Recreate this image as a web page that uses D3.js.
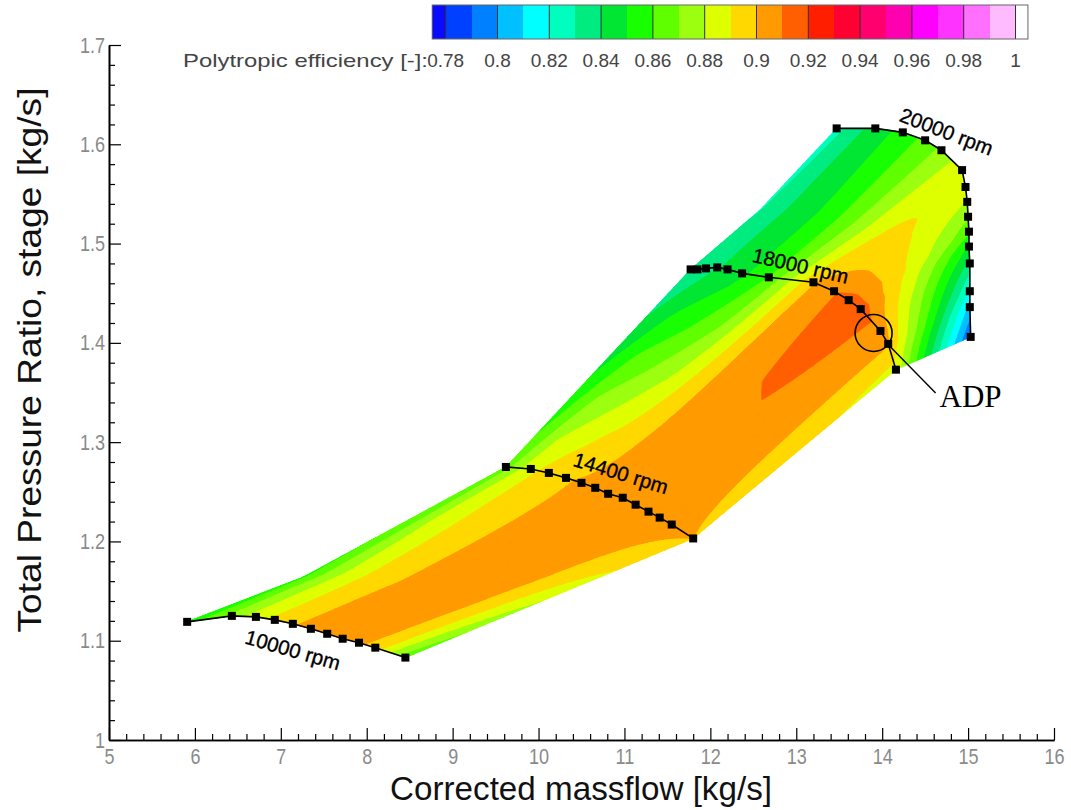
<!DOCTYPE html>
<html><head><meta charset="utf-8">
<script src="https://cdn.jsdelivr.net/npm/d3@7"></script>
<style>body{margin:0;background:#fff}svg{display:block}</style>
</head><body>
<svg id="chart" width="1071" height="810"></svg>
<script>
// ---------------- data ----------------
const speedNames = ["10000 rpm", "14400 rpm", "18000 rpm", "20000 rpm"];

const mf10000  = [5.91, 6.43, 6.71, 6.93, 7.14, 7.35, 7.54, 7.72, 7.91, 8.10, 8.45];
const pr10000  = [1.119, 1.125, 1.124, 1.121, 1.117, 1.112, 1.107, 1.102, 1.098, 1.093, 1.083];
const eff10000 = [0.853, 0.873, 0.885, 0.892, 0.899, 0.903, 0.905, 0.905, 0.902, 0.896, 0.862];

const mf14400  = [9.62, 9.91, 10.12, 10.32, 10.50, 10.66, 10.81, 10.98, 11.13, 11.28, 11.41, 11.55, 11.80];
const pr14400  = [1.275, 1.273, 1.269, 1.264, 1.259, 1.254, 1.248, 1.244, 1.237, 1.230, 1.224, 1.217, 1.203];
const eff14400 = [0.865, 0.887, 0.894, 0.899, 0.901, 0.903, 0.904, 0.904, 0.904, 0.904, 0.904, 0.903, 0.900];

const mf18000  = [11.77, 11.85, 11.95, 12.08, 12.20, 12.37, 12.68, 13.20, 13.44, 13.61, 13.75, 13.98, 14.07, 14.16];
const pr18000  = [1.474, 1.474, 1.475, 1.476, 1.474, 1.470, 1.466, 1.461, 1.452, 1.443, 1.434, 1.412, 1.399, 1.373];
const eff18000 = [0.832, 0.834, 0.836, 0.839, 0.842, 0.847, 0.860, 0.899, 0.909, 0.914, 0.915, 0.906, 0.901, 0.886];

const mf20000  = [13.47, 13.92, 14.24, 14.50, 14.69, 14.93, 14.97, 14.99, 15.00, 15.01, 15.01, 15.02, 15.02, 15.02, 15.03];
const pr20000  = [1.616, 1.616, 1.612, 1.604, 1.594, 1.574, 1.557, 1.542, 1.527, 1.512, 1.497, 1.480, 1.452, 1.436, 1.406];
const eff20000 = [0.826, 0.845, 0.853, 0.863, 0.872, 0.887, 0.885, 0.879, 0.871, 0.862, 0.848, 0.836, 0.818, 0.806, 0.788];

// corner points of the map outline between neighbouring speed lines (surge side / choke side)
const surgeEdgeKinks = [[[7.26, 1.164]], [], [[12.58, 1.534]]];
const chokeEdgeKinks = [[], [], []];

const effLevels = [0.78, 0.79, 0.80, 0.81, 0.82, 0.83, 0.84, 0.85, 0.86, 0.87, 0.88, 0.89,
                   0.90, 0.91, 0.92, 0.93, 0.94, 0.95, 0.96, 0.97, 0.98, 0.99, 1.00];
const levelColors = ["#0a0aff", "#0040ff", "#0080ff", "#00c0ff", "#00ffff", "#00ffbf", "#00eb80",
  "#00e632", "#18ff00", "#60ff00", "#9cff10", "#ddff00", "#ffd800", "#ff9a00", "#ff5f00",
  "#ff1e00", "#ff0033", "#ff006e", "#ff00b0", "#ff00ff", "#ff33ff", "#ff70ff", "#ffbbff", "#ffffff"];
const colorbarTickValues = [0.78, 0.80, 0.82, 0.84, 0.86, 0.88, 0.90, 0.92, 0.94, 0.96, 0.98, 1.00];
const colorbarTickLabels = ["0.78", "0.8", "0.82", "0.84", "0.86", "0.88", "0.9", "0.92", "0.94", "0.96", "0.98", "1"];

const xTickValues = [5, 6, 7, 8, 9, 10, 11, 12, 13, 14, 15, 16];
const xTickLabels = ["5", "6", "7", "8", "9", "10", "11", "12", "13", "14", "15", "16"];
const yTickValues = [1, 1.1, 1.2, 1.3, 1.4, 1.5, 1.6, 1.7];
const yTickLabels = ["1", "1.1", "1.2", "1.3", "1.4", "1.5", "1.6", "1.7"];

const speedLabelPos = [[7.14, 1.091], [10.96, 1.269], [13.05, 1.478], [14.75, 1.613]];
const speedLabelAngle = [16, 17, 13, 21];
const adpPoint = [13.90, 1.410];

// ---------------- setup ----------------
const svg = d3.select("#chart");
const x = d3.scaleLinear().domain([5, 16]).range([109, 1054]);
const y = d3.scaleLinear().domain([1, 1.7]).range([740, 45]);
const FONT = "'Liberation Sans', Arial, Helvetica, sans-serif";

const lines = [
  {m: mf10000, p: pr10000, e: eff10000},
  {m: mf14400, p: pr14400, e: eff14400},
  {m: mf18000, p: pr18000, e: eff18000},
  {m: mf20000, p: pr20000, e: eff20000}
];

function toPx(ms, ps) { return ms.map((m, i) => [x(m), y(ps[i])]); }
function cumParam(pts) {
  const c = [0];
  for (let i = 1; i < pts.length; i++) c.push(c[i - 1] + Math.hypot(pts[i][0] - pts[i - 1][0], pts[i][1] - pts[i - 1][1]));
  const L = c[c.length - 1];
  return c.map(v => v / L);
}
function segAt(t, u) {
  let i = d3.bisectRight(t, u) - 1;
  i = Math.max(0, Math.min(t.length - 2, i));
  return [i, (u - t[i]) / (t[i + 1] - t[i])];
}
function ptAt(pts, t, u) {
  const [i, s] = segAt(t, u);
  return [pts[i][0] + s * (pts[i + 1][0] - pts[i][0]), pts[i][1] + s * (pts[i + 1][1] - pts[i][1])];
}
function valAt(vals, t, u) {
  const [i, s] = segAt(t, u);
  return vals[i] + s * (vals[i + 1] - vals[i]);
}
const pxLines = lines.map(l => { const pts = toPx(l.m, l.p); return {pts, t: cumParam(pts), e: l.e}; });

// ---------------- contour bands (Coons patch between speed lines) ----------------
function bandIndex(f) { let k = 0; while (k < effLevels.length && f >= effLevels[k]) k++; return k; }
function clip(poly, above, lev) {
  const out = [];
  for (let i = 0; i < poly.length; i++) {
    const a = poly[i], b = poly[(i + 1) % poly.length];
    const ia = above ? a[2] >= lev : a[2] <= lev;
    const ib = above ? b[2] >= lev : b[2] <= lev;
    if (ia) out.push(a);
    if (ia !== ib) {
      const s = (lev - a[2]) / (b[2] - a[2]);
      out.push([a[0] + s * (b[0] - a[0]), a[1] + s * (b[1] - a[1]), lev]);
    }
  }
  return out;
}
const bandPaths = levelColors.map(() => []);
function addTri(tri) {
  const fs = tri.map(p => p[2]);
  const k0 = bandIndex(d3.min(fs)), k1 = bandIndex(d3.max(fs));
  for (let k = k0; k <= k1; k++) {
    let poly = tri;
    if (k > 0) poly = clip(poly, true, effLevels[k - 1]);
    if (poly.length >= 3 && k < effLevels.length) poly = clip(poly, false, effLevels[k]);
    if (poly.length >= 3) bandPaths[k].push("M" + poly.map(p => p[0].toFixed(2) + "," + p[1].toFixed(2)).join("L") + "Z");
  }
}
const NU = 150, NV = 32;
for (let r = 0; r < 3; r++) {
  const lo = pxLines[r], up = pxLines[r + 1];
  const L0 = lo.pts[0], L1 = lo.pts[lo.pts.length - 1];
  const U0 = up.pts[0], U1 = up.pts[up.pts.length - 1];
  const leftPts = [L0, ...surgeEdgeKinks[r].map(d => [x(d[0]), y(d[1])]), U0];
  const rightPts = [L1, ...chokeEdgeKinks[r].map(d => [x(d[0]), y(d[1])]), U1];
  const lt = cumParam(leftPts), rt = cumParam(rightPts);
  const grid = [];
  for (let i = 0; i <= NU; i++) {
    const u = i / NU;
    const a = ptAt(lo.pts, lo.t, u), b = ptAt(up.pts, up.t, u);
    const ea = valAt(lo.e, lo.t, u), eb = valAt(up.e, up.t, u);
    const col = [];
    for (let j = 0; j <= NV; j++) {
      const v = j / NV;
      const bl = ptAt(leftPts, lt, v), br = ptAt(rightPts, rt, v);
      const px = (1 - v) * a[0] + v * b[0] + (1 - u) * bl[0] + u * br[0]
        - ((1 - u) * (1 - v) * L0[0] + u * (1 - v) * L1[0] + (1 - u) * v * U0[0] + u * v * U1[0]);
      const py = (1 - v) * a[1] + v * b[1] + (1 - u) * bl[1] + u * br[1]
        - ((1 - u) * (1 - v) * L0[1] + u * (1 - v) * L1[1] + (1 - u) * v * U0[1] + u * v * U1[1]);
      col.push([px, py, (1 - v) * ea + v * eb]);
    }
    grid.push(col);
  }
  for (let i = 0; i < NU; i++) for (let j = 0; j < NV; j++) {
    const p00 = grid[i][j], p10 = grid[i + 1][j], p01 = grid[i][j + 1], p11 = grid[i + 1][j + 1];
    addTri([p00, p10, p11]);
    addTri([p00, p11, p01]);
  }
}
svg.append("g").attr("class", "contours")
  .selectAll("path").data(levelColors.map((c, k) => ({c, d: bandPaths[k].join("")})).filter(d => d.d))
  .join("path").attr("d", d => d.d).attr("fill", d => d.c)
  .attr("stroke", d => d.c).attr("stroke-width", 0.8).attr("stroke-linejoin", "round");

// ---------------- speed lines ----------------
const lineGen = d3.line().x(d => x(d[0])).y(d => y(d[1]));
const gLines = svg.append("g").attr("class", "speedlines");
lines.forEach(l => {
  const pts = l.m.map((m, i) => [m, l.p[i]]);
  gLines.append("path").attr("d", lineGen(pts)).attr("fill", "none").attr("stroke", "#000").attr("stroke-width", 1.6);
  gLines.selectAll(null).data(pts).join("rect")
    .attr("x", d => x(d[0]) - 4).attr("y", d => y(d[1]) - 4).attr("width", 8).attr("height", 8).attr("fill", "#000");
});
svg.append("g").selectAll("text").data(speedNames).join("text")
  .attr("transform", (d, i) => `translate(${x(speedLabelPos[i][0])},${y(speedLabelPos[i][1])}) rotate(${speedLabelAngle[i]})`)
  .attr("text-anchor", "middle").attr("dominant-baseline", "central")
  .attr("font-family", FONT).attr("font-size", 20.5).attr("fill", "#000")
  .attr("stroke", "#000").attr("stroke-width", 0.35)
  .text(d => d);

// ---------------- ADP annotation ----------------
const ax = x(adpPoint[0]), ay = y(adpPoint[1]);
svg.append("circle").attr("cx", ax).attr("cy", ay).attr("r", 18.5).attr("fill", "none").attr("stroke", "#000").attr("stroke-width", 1.6);
svg.append("line").attr("x1", ax + 14).attr("y1", ay + 11).attr("x2", ax + 62).attr("y2", ay + 60).attr("stroke", "#000").attr("stroke-width", 1.4);
svg.append("text").attr("x", ax + 66).attr("y", ay + 74).attr("font-family", "'Liberation Serif', 'Times New Roman', serif")
  .attr("font-size", 31).attr("fill", "#000").text("ADP");

// ---------------- axes ----------------
const xMinor = d3.range(50, 161, 2).filter(v => v % 10 !== 0).map(v => v / 10);
const yMinor = d3.range(50, 86, 1).filter(v => v % 5 !== 0).map(v => v / 50);
svg.append("g").attr("transform", `translate(0,${y(1)})`)
  .call(d3.axisBottom(x).tickValues(xMinor).tickSize(-6).tickSizeOuter(0).tickFormat(""));
const gxM = svg.append("g").attr("transform", `translate(0,${y(1)})`)
  .call(d3.axisBottom(x).tickValues(xTickValues).tickSize(-12).tickSizeOuter(0).tickPadding(8)
    .tickFormat((d, i) => xTickLabels[i]));
svg.append("g").attr("transform", `translate(${x(5)},0)`)
  .call(d3.axisLeft(y).tickValues(yMinor).tickSize(-6).tickSizeOuter(0).tickFormat(""));
const gyM = svg.append("g").attr("transform", `translate(${x(5)},0)`)
  .call(d3.axisLeft(y).tickValues(yTickValues).tickSize(-12).tickSizeOuter(0).tickPadding(4)
    .tickFormat((d, i) => yTickLabels[i]));
svg.selectAll(".domain").attr("stroke", "#000").attr("stroke-width", 1.6);
svg.selectAll(".tick line").attr("stroke", "#000").attr("stroke-width", 1.2);
[gxM, gyM].forEach(g => g.selectAll("text").attr("font-family", FONT).attr("font-size", 22).attr("fill", "#8a8a8a")
  .each(function () { const w = this.getComputedTextLength(); this.setAttribute("textLength", (w * 0.82).toFixed(1)); this.setAttribute("lengthAdjust", "spacingAndGlyphs"); }));

svg.append("text").attr("x", 581).attr("y", 800)
  .attr("text-anchor", "middle").attr("font-family", FONT).attr("font-size", 33).attr("fill", "#111")
  .attr("textLength", 382).attr("lengthAdjust", "spacingAndGlyphs")
  .text("Corrected massflow [kg/s]");
svg.append("text").attr("transform", `translate(41,360) rotate(-90)`)
  .attr("text-anchor", "middle").attr("font-family", FONT).attr("font-size", 33).attr("fill", "#111")
  .attr("textLength", 545).attr("lengthAdjust", "spacingAndGlyphs")
  .text("Total Pressure Ratio, stage [kg/s]");

// ---------------- colour bar ----------------
const cb = d3.scaleLinear().domain([0.78, 1.0]).range([445.7, 1015.5]);
const cbTop = 5, cbH = 34;
const cells = levelColors.map((c, k) => ({c, lo: k === 0 ? 0.7748 : effLevels[k - 1], hi: k === effLevels.length ? 1.0048 : effLevels[k]}));
const gcb = svg.append("g");
gcb.selectAll("rect").data(cells).join("rect")
  .attr("x", d => cb(d.lo)).attr("y", cbTop).attr("width", d => cb(d.hi) - cb(d.lo)).attr("height", cbH)
  .attr("fill", d => d.c).attr("shape-rendering", "crispEdges");
gcb.selectAll("line").data(colorbarTickValues).join("line")
  .attr("x1", d => cb(d)).attr("x2", d => cb(d)).attr("y1", cbTop).attr("y2", cbTop + cbH)
  .attr("stroke", "#333").attr("stroke-width", 1);
gcb.append("rect").attr("x", cb(0.7748)).attr("y", cbTop).attr("width", cb(1.0048) - cb(0.7748)).attr("height", cbH)
  .attr("fill", "none").attr("stroke", "#666").attr("stroke-width", 1);
gcb.selectAll("text.cbl").data(colorbarTickValues).join("text").attr("class", "cbl")
  .attr("x", d => cb(d)).attr("y", 60).attr("text-anchor", "middle").attr("dominant-baseline", "central")
  .attr("font-family", FONT).attr("font-size", 19).attr("fill", "#444")
  .text((d, i) => colorbarTickLabels[i]);
gcb.append("text").attr("x", 428).attr("y", 60).attr("text-anchor", "end").attr("dominant-baseline", "central")
  .attr("font-family", FONT).attr("font-size", 19).attr("fill", "#444")
  .attr("textLength", 245).attr("lengthAdjust", "spacingAndGlyphs")
  .text("Polytropic efficiency [-]:");
</script>
</body></html>
